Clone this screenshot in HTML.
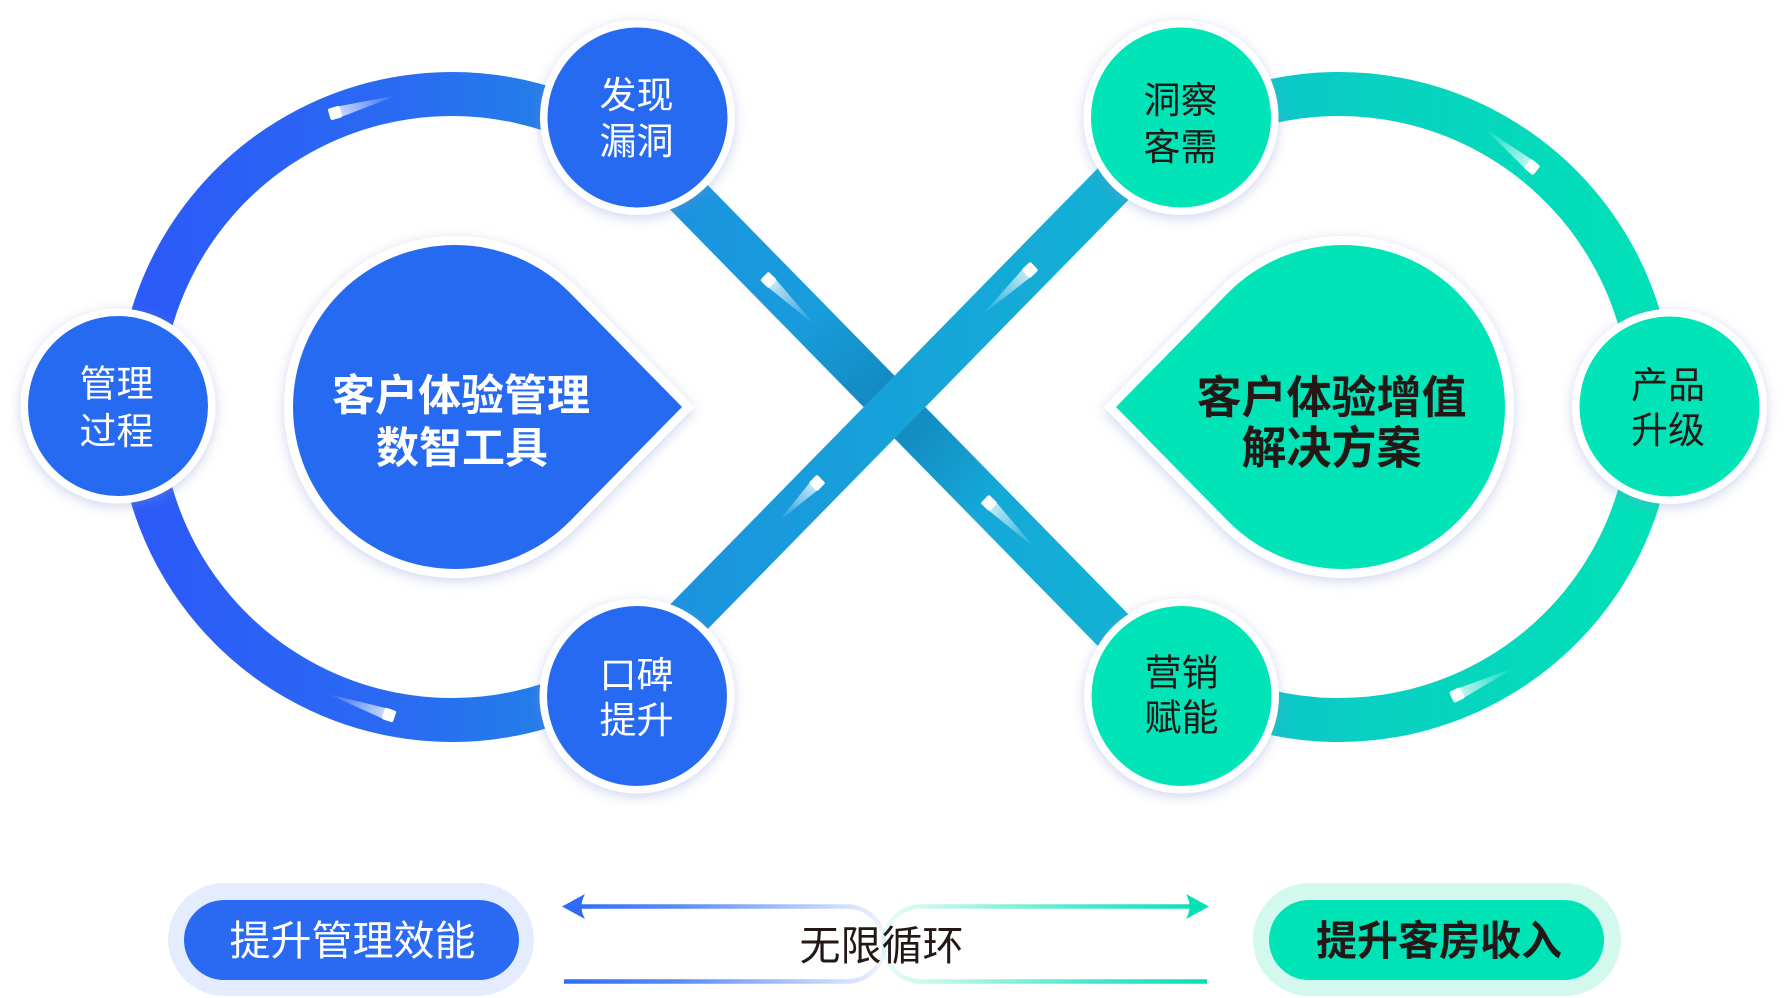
<!DOCTYPE html>
<html><head><meta charset="utf-8">
<style>
html,body{margin:0;padding:0;background:#fff;}
svg{display:block;}
text{font-family:"Liberation Sans","Noto Sans CJK SC",sans-serif;}
</style></head>
<body>
<svg width="1788" height="998" viewBox="0 0 1788 998" xmlns="http://www.w3.org/2000/svg">
<defs>
 <filter id="sh" x="-30%" y="-30%" width="160%" height="160%">
  <feDropShadow dx="0" dy="3" stdDeviation="6" flood-color="#7f8dd0" flood-opacity="0.38"/>
 </filter>
 <linearGradient id="gL" gradientUnits="userSpaceOnUse" x1="120" y1="0" x2="640" y2="0">
  <stop offset="0" stop-color="#2c58fa"/>
  <stop offset="0.55" stop-color="#2a6bf2"/>
  <stop offset="1" stop-color="#1d8be2"/>
 </linearGradient>
 <linearGradient id="gR" gradientUnits="userSpaceOnUse" x1="1180" y1="0" x2="1670" y2="0">
  <stop offset="0" stop-color="#10bccd"/>
  <stop offset="0.4" stop-color="#08d1c1"/>
  <stop offset="1" stop-color="#00e2b6"/>
 </linearGradient>
 <linearGradient id="gB" gradientUnits="userSpaceOnUse" x1="620" y1="0" x2="1170" y2="0">
  <stop offset="0" stop-color="#1c8fe0"/>
  <stop offset="1" stop-color="#11b5d3"/>
 </linearGradient>
 <linearGradient id="gShade" gradientUnits="userSpaceOnUse" x1="632.7" y1="140" x2="1162" y2="680">
  <stop offset="0.33" stop-color="#0b4f80" stop-opacity="0"/>
  <stop offset="0.46" stop-color="#0b4f80" stop-opacity="0.26"/>
  <stop offset="0.54" stop-color="#0b4f80" stop-opacity="0.26"/>
  <stop offset="0.67" stop-color="#0b4f80" stop-opacity="0"/>
 </linearGradient>
 <linearGradient id="t1" gradientUnits="userSpaceOnUse" x1="335" y1="113" x2="398" y2="95"><stop offset="0" stop-color="#fff" stop-opacity="0.8"/><stop offset="1" stop-color="#fff" stop-opacity="0"/></linearGradient>
 <linearGradient id="t2" gradientUnits="userSpaceOnUse" x1="389" y1="715" x2="328" y2="694"><stop offset="0" stop-color="#fff" stop-opacity="0.8"/><stop offset="1" stop-color="#fff" stop-opacity="0"/></linearGradient>
 <linearGradient id="t3" gradientUnits="userSpaceOnUse" x1="768.5" y1="280" x2="815" y2="325"><stop offset="0" stop-color="#fff" stop-opacity="0.8"/><stop offset="1" stop-color="#fff" stop-opacity="0"/></linearGradient>
 <linearGradient id="t4" gradientUnits="userSpaceOnUse" x1="1030" y1="270" x2="982" y2="315"><stop offset="0" stop-color="#fff" stop-opacity="0.8"/><stop offset="1" stop-color="#fff" stop-opacity="0"/></linearGradient>
 <linearGradient id="t5" gradientUnits="userSpaceOnUse" x1="817" y1="483" x2="779" y2="521"><stop offset="0" stop-color="#fff" stop-opacity="0.8"/><stop offset="1" stop-color="#fff" stop-opacity="0"/></linearGradient>
 <linearGradient id="t6" gradientUnits="userSpaceOnUse" x1="989" y1="503" x2="1035" y2="548"><stop offset="0" stop-color="#fff" stop-opacity="0.8"/><stop offset="1" stop-color="#fff" stop-opacity="0"/></linearGradient>
 <linearGradient id="t7" gradientUnits="userSpaceOnUse" x1="1532" y1="167" x2="1484" y2="128"><stop offset="0" stop-color="#fff" stop-opacity="0.8"/><stop offset="1" stop-color="#fff" stop-opacity="0"/></linearGradient>
 <linearGradient id="t8" gradientUnits="userSpaceOnUse" x1="1457" y1="695" x2="1514" y2="668"><stop offset="0" stop-color="#fff" stop-opacity="0.8"/><stop offset="1" stop-color="#fff" stop-opacity="0"/></linearGradient>
 <linearGradient id="aL" gradientUnits="userSpaceOnUse" x1="564" y1="0" x2="885" y2="0">
  <stop offset="0" stop-color="#2e6cf6" stop-opacity="1"/>
  <stop offset="0.35" stop-color="#2e6cf6" stop-opacity="0.8"/>
  <stop offset="1" stop-color="#2e6cf6" stop-opacity="0.08"/>
 </linearGradient>
 <linearGradient id="aR" gradientUnits="userSpaceOnUse" x1="1207" y1="0" x2="883" y2="0">
  <stop offset="0" stop-color="#05e0b4" stop-opacity="1"/>
  <stop offset="0.35" stop-color="#05e0b4" stop-opacity="0.75"/>
  <stop offset="1" stop-color="#05e0b4" stop-opacity="0.08"/>
 </linearGradient>
</defs>

<!-- rings -->
<path d="M 619.7 142.7 A 313 313 0 1 0 619.7 671.3" fill="none" stroke="url(#gL)" stroke-width="44"/>
<path d="M 1189.2 132.2 A 313 313 0 1 1 1189.2 681.8" fill="none" stroke="url(#gR)" stroke-width="44"/>

<!-- bands -->
<line x1="632.7" y1="140" x2="1162" y2="680" stroke="url(#gB)" stroke-width="44"/>
<line x1="632.7" y1="140" x2="1162" y2="680" stroke="url(#gShade)" stroke-width="44"/>
<line x1="1156.3" y1="140" x2="626.9" y2="680" stroke="url(#gB)" stroke-width="44"/>

<!-- trails & cubes -->
<polygon points="336.7,118.8 333.4,107.2 398,95" fill="url(#t1)"/>
<rect x="329" y="107" width="12" height="12" rx="2" fill="#fff" transform="rotate(-16 335 113)"/>
<polygon points="391,709.3 387,720.7 328,694" fill="url(#t2)"/>
<rect x="383" y="709" width="12" height="12" rx="2" fill="#fff" transform="rotate(19 389 715)"/>
<polygon points="764.3,284.3 772.7,275.7 815,325" fill="url(#t3)"/>
<rect x="762.5" y="274" width="12" height="12" rx="2" fill="#fff" transform="rotate(44 768.5 280)"/>
<polygon points="1025.9,265.6 1034.1,274.4 982,315" fill="url(#t4)"/>
<rect x="1024" y="264" width="12" height="12" rx="2" fill="#fff" transform="rotate(-43 1030 270)"/>
<polygon points="812.8,478.8 821.2,487.2 779,521" fill="url(#t5)"/>
<rect x="811" y="477" width="12" height="12" rx="2" fill="#fff" transform="rotate(45 817 483)"/>
<polygon points="984.8,507.3 993.2,498.7 1035,548" fill="url(#t6)"/>
<rect x="983" y="497" width="12" height="12" rx="2" fill="#fff" transform="rotate(44 989 503)"/>
<polygon points="1535.8,162.3 1528.2,171.7 1484,128" fill="url(#t7)"/>
<rect x="1526" y="161" width="12" height="12" rx="2" fill="#fff" transform="rotate(39 1532 167)"/>
<polygon points="1459.6,700.4 1454.4,689.6 1514,668" fill="url(#t8)"/>
<rect x="1451" y="689" width="12" height="12" rx="2" fill="#fff" transform="rotate(-25 1457 695)"/>

<!-- small circles -->
<g filter="url(#sh)" fill="#fff">
 <circle cx="118" cy="406" r="97.5"/>
 <circle cx="637.5" cy="117.5" r="97.5"/>
 <circle cx="637" cy="696" r="97.5"/>
 <circle cx="1181" cy="117.5" r="97.5"/>
 <circle cx="1181.5" cy="696" r="97.5"/>
 <circle cx="1669.5" cy="406.5" r="97.5"/>
</g>
<g fill="#276af2">
 <circle cx="118" cy="406" r="90"/>
 <circle cx="637.5" cy="117.5" r="90"/>
 <circle cx="637" cy="696" r="90"/>
</g>
<g fill="#00e4b7">
 <circle cx="1181" cy="117.5" r="90"/>
 <circle cx="1181.5" cy="696" r="90"/>
 <circle cx="1669.5" cy="406.5" r="90"/>
</g>

<!-- blobs -->
<g filter="url(#sh)" fill="#fff">
 <path d="M 693 407 L 576.4 288 A 170 170 0 1 0 576.4 526 Z" stroke="#fff" stroke-width="2" stroke-linejoin="round"/>
 <path d="M 1105 407 L 1221.6 288 A 170 170 0 1 1 1221.6 526 Z" stroke="#fff" stroke-width="2" stroke-linejoin="round"/>
</g>
<path d="M 682 407 L 570.6 293.5 A 162 162 0 1 0 570.6 520.5 Z" fill="#276af2"/>
<path d="M 1116 407 L 1227.4 293.5 A 162 162 0 1 1 1227.4 520.5 Z" fill="#00e4b7"/>

<!-- small circle texts -->
<g font-size="37" text-anchor="middle" fill="#fff">
 <text x="116.5" y="396.5">管理</text>
 <text x="116.5" y="444">过程</text>
 <text x="636.5" y="108">发现</text>
 <text x="636.5" y="154">漏洞</text>
 <text x="636.5" y="688">口碑</text>
 <text x="636.5" y="733">提升</text>
</g>
<g font-size="37" text-anchor="middle" fill="#231815">
 <text x="1180.5" y="113">洞察</text>
 <text x="1180.5" y="160">客需</text>
 <text x="1181.5" y="685.5">营销</text>
 <text x="1181.5" y="730.5">赋能</text>
 <text x="1668" y="398">产品</text>
 <text x="1668" y="443">升级</text>
</g>

<!-- blob texts -->
<g font-size="43" font-weight="bold" text-anchor="middle" fill="#fff">
 <text x="461" y="410.5">客户体验管理</text>
 <text x="462" y="463">数智工具</text>
</g>
<g font-size="45" font-weight="bold" text-anchor="middle" fill="#231815">
 <text x="1331.5" y="413">客户体验增值</text>
 <text x="1331.5" y="463.5">解决方案</text>
</g>

<!-- bottom pills -->
<rect x="168" y="883" width="366" height="113" rx="56.5" fill="#e5ecfd"/>
<rect x="184" y="900" width="335" height="80" rx="40" fill="#2a6af3"/>
<text x="352.5" y="955" font-size="41" text-anchor="middle" fill="#fff">提升管理效能</text>

<rect x="1253" y="883" width="368" height="113" rx="56.5" fill="#d3f8ed"/>
<rect x="1269" y="900" width="335" height="80" rx="40" fill="#00e3b6"/>
<text x="1439" y="955" font-size="41" font-weight="bold" text-anchor="middle" fill="#231815">提升客房收入</text>

<!-- infinite loop arrows -->
<path d="M 570 906.5 L 847 906.5 A 37.5 37.5 0 0 1 847 981.5 L 564 981.5" fill="none" stroke="url(#aL)" stroke-width="4.5"/>
<path d="M 1200 906.5 L 921 906.5 A 37.5 37.5 0 0 0 921 981.5 L 1207 981.5" fill="none" stroke="url(#aR)" stroke-width="4.5"/>
<path d="M 562 906.5 L 585 894 Q 578 906.5 585 919 Z" fill="#2e6cf6"/>
<path d="M 1209 906.5 L 1186 894 Q 1193 906.5 1186 919 Z" fill="#05e0b4"/>
<text x="881.5" y="960" font-size="41" text-anchor="middle" fill="#231815">无限循环</text>
</svg>
</body></html>
